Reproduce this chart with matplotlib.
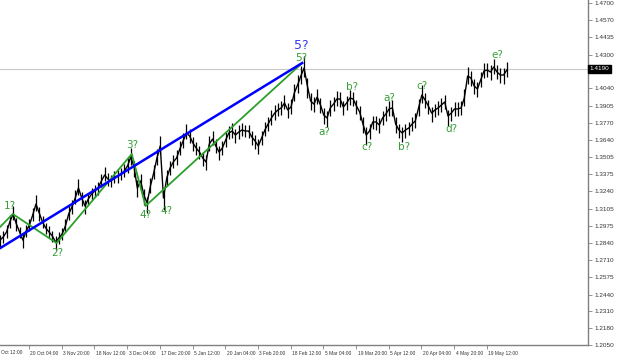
import numpy as np
import matplotlib
matplotlib.use("Agg")
import matplotlib.pyplot as plt
from matplotlib import font_manager

# ---------------- data ----------------
# daily mid/closing prices (one value per trading day)
prices = [
    1.2863, 1.2887, 1.2926, 1.3003, 1.3065, 1.2988, 1.2926, 1.2863, 1.2933, 1.2980,
    1.3057, 1.3142, 1.3073, 1.3003, 1.2956, 1.2926, 1.2895, 1.2848, 1.2879, 1.2910,
    1.2972, 1.3065, 1.3119, 1.3189, 1.3266, 1.3189, 1.3127, 1.3181, 1.3220, 1.3243,
    1.3266, 1.3321, 1.3367, 1.3336, 1.3321, 1.3352, 1.3359, 1.3375, 1.3398, 1.3437,
    1.3507, 1.3429, 1.3266, 1.3321, 1.3212, 1.3150, 1.3282, 1.3383, 1.3499, 1.3592,
    1.3189, 1.3344, 1.3421, 1.3468, 1.3499, 1.3569, 1.3631, 1.3693, 1.3669, 1.3615,
    1.3576, 1.3545, 1.3499, 1.3468, 1.3607, 1.3646, 1.3592, 1.3545, 1.3576, 1.3638,
    1.3693, 1.3708, 1.3677, 1.3700, 1.3716, 1.3708, 1.3708, 1.3662, 1.3631, 1.3592,
    1.3654, 1.3716, 1.3762, 1.3809, 1.3847, 1.3871, 1.3887, 1.3925, 1.3871, 1.3894,
    1.4003, 1.4064, 1.4134, 1.4196, 1.4057, 1.3940, 1.3917, 1.3971, 1.3910, 1.3832,
    1.3809, 1.3887, 1.3917, 1.3956, 1.3956, 1.3894, 1.3925, 1.3964, 1.3956, 1.3902,
    1.3855, 1.3762, 1.3677, 1.3708, 1.3778, 1.3778, 1.3755, 1.3809, 1.3840, 1.3879,
    1.3887, 1.3762, 1.3716, 1.3693, 1.3716, 1.3731, 1.3762, 1.3786, 1.3887, 1.3987,
    1.3948, 1.3902, 1.3847, 1.3871, 1.3887, 1.3910, 1.3933, 1.3824, 1.3847, 1.3879,
    1.3879, 1.3887, 1.3964, 1.4134, 1.4119, 1.4057, 1.4034, 1.4103, 1.4173, 1.4181,
    1.4165, 1.4204, 1.4165, 1.4142, 1.4142, 1.4181,
]
# daily extent above / below that price, in pips
up_pips = [
    40, 45, 50, 55, 60, 45, 40, 50, 45, 50,
    55, 70, 50, 45, 40, 45, 40, 45, 50, 45,
    55, 60, 55, 60, 70, 50, 45, 50, 45, 45,
    50, 55, 60, 45, 45, 50, 45, 50, 55, 60,
    70, 50, 60, 55, 50, 45, 60, 65, 70, 80,
    50, 60, 55, 55, 60, 60, 65, 70, 55, 50,
    50, 45, 50, 55, 60, 65, 55, 50, 55, 60,
    55, 60, 50, 55, 55, 50, 50, 45, 50, 55,
    55, 60, 55, 60, 60, 55, 55, 60, 55, 60,
    70, 75, 80, 90, 60, 60, 55, 60, 50, 55,
    55, 60, 55, 60, 55, 50, 55, 60, 55, 50,
    50, 55, 60, 55, 50, 50, 55, 55, 60, 60,
    65, 55, 50, 50, 50, 50, 55, 60, 70, 80,
    55, 50, 50, 50, 50, 50, 55, 50, 50, 50,
    50, 55, 70, 70, 55, 55, 55, 60, 60, 55,
    55, 65, 55, 55, 55, 60,
]
down_pips = [
    50, 45, 45, 50, 45, 55, 50, 60, 45, 45,
    50, 55, 60, 50, 45, 45, 50, 60, 45, 50,
    50, 50, 55, 50, 55, 65, 60, 50, 45, 45,
    50, 50, 50, 55, 50, 45, 50, 45, 50, 55,
    60, 80, 70, 60, 75, 80, 55, 50, 55, 60,
    90, 60, 50, 50, 55, 50, 55, 50, 55, 60,
    55, 55, 60, 65, 55, 50, 55, 60, 50, 50,
    50, 55, 60, 50, 50, 50, 55, 60, 60, 65,
    55, 50, 50, 55, 50, 50, 55, 50, 60, 55,
    60, 60, 65, 70, 90, 70, 60, 55, 60, 70,
    70, 60, 55, 55, 60, 60, 55, 55, 55, 60,
    60, 70, 75, 60, 55, 60, 60, 55, 55, 55,
    60, 70, 65, 70, 60, 55, 55, 55, 60, 60,
    60, 65, 70, 55, 55, 55, 55, 75, 60, 55,
    55, 55, 60, 60, 60, 65, 65, 55, 55, 55,
    60, 55, 55, 60, 70, 55,
]

# wave markup: (day index, price)
blue_days = [0.0, 92.4]
blue_prices = [1.2800, 1.4235]
green_days = [0.0, 3.9, 17.3, 40.3, 44.5, 92.4]
green_prices = [1.2964, 1.3065, 1.2840, 1.3530, 1.3127, 1.4235]

green_labels = ["1?", "2?", "3?", "4?", "4?", "5?", "a?", "b?", "c?", "a?", "b?", "c?", "d?", "e?"]
green_label_days = [3.0, 17.6, 40.3, 44.5, 50.9, 92.1, 99.2, 107.6, 112.1, 119.1, 123.6, 129.1, 138.2, 152.1]
green_label_prices = [1.3127, 1.2763, 1.3600, 1.3058, 1.3085, 1.4274, 1.3701, 1.4050, 1.3585, 1.3964, 1.3585, 1.4057, 1.3724, 1.4297]
blue_label = "5?"
blue_label_day = 92.1
blue_label_price = 1.4367

x_tick_labels = ["20 Oct 04:00", "3 Nov 20:00", "18 Nov 12:00", "3 Dec 04:00", "17 Dec 20:00",
                 "5 Jan 12:00", "20 Jan 04:00", "3 Feb 20:00", "18 Feb 12:00", "5 Mar 04:00",
                 "19 Mar 20:00", "5 Apr 12:00", "20 Apr 04:00", "4 May 20:00", "19 May 12:00"]
first_label = "Oct 12:00"
y_ticks = [1.4700, 1.4570, 1.4435, 1.4300, 1.4040, 1.3905, 1.3770, 1.3640, 1.3505, 1.3375,
           1.3240, 1.3105, 1.2975, 1.2840, 1.2710, 1.2575, 1.2440, 1.2310, 1.2180, 1.2050]
current_price = 1.4190

# ---------------- figure ----------------
W, H = 620, 361
fig = plt.figure(figsize=(W / 100, H / 100), dpi=100)
fig.patch.set_facecolor("white")
ax = fig.add_axes([0, (H - 345) / H, 588 / W, 345 / H])
ax.set_facecolor("white")

px_per_day = 3.27
days = np.arange(len(prices))
ax.set_xlim(0, 588 / px_per_day)
ax.set_ylim(1.2050, 1.47232)

fam = ["Liberation Sans Narrow", "Liberation Sans", "DejaVu Sans"]
names = {f.name for f in font_manager.fontManager.ttflist}
fam = [f for f in fam if f in names] or ["DejaVu Sans"]

# bid line
ax.axhline(current_price, color="#c8c8c8", lw=0.8, zorder=1)

p = np.array(prices)
highs = p + np.array(up_pips) / 10000
lows = p - np.array(down_pips) / 10000
ax.vlines(days, lows, highs, color="black", lw=0.9, zorder=3)
ax.plot(days, prices, color="black", lw=1.0, zorder=3)
ax.plot(green_days, green_prices, color="#2aa02a", lw=1.3, zorder=4)
ax.plot(blue_days, blue_prices, color="#0000ff", lw=1.8, zorder=5)

for t, d, pr in zip(green_labels, green_label_days, green_label_prices):
    ax.text(d, pr, t, color="#36a036", fontsize=7.5, ha="center", va="center", zorder=6)
ax.text(blue_label_day, blue_label_price, blue_label, color="#3a3aee", fontsize=9,
        ha="center", va="center", zorder=6)

for s in ["top", "left"]:
    ax.spines[s].set_visible(False)
for s in ["right", "bottom"]:
    ax.spines[s].set_color("#808080")
    ax.spines[s].set_linewidth(1.0)

tick0 = 29 / px_per_day
xt = [tick0 + 10 * k for k in range(len(x_tick_labels))]
ax.set_xticks(xt)
ax.set_xticklabels(x_tick_labels, ha="left", fontsize=3.5, family=fam, color="#333333")
ax.tick_params(axis="x", direction="out", length=3, width=0.6, color="#808080", pad=1.5)
for lab in ax.get_xticklabels():
    lab.set_transform(lab.get_transform() + matplotlib.transforms.ScaledTranslation(1.5 / 100, 0, fig.dpi_scale_trans))
fig.text(1 / W, (H - 352) / H, first_label, fontsize=3.5, family=fam, color="#333333",
         ha="left", va="center")

ax.yaxis.tick_right()
ax.set_yticks(y_ticks)
ax.set_yticklabels([f"{v:.4f}" for v in y_ticks], fontsize=4.6, family=fam, color="#333333")
ax.tick_params(axis="y", direction="out", length=3, width=0.6, color="#808080", pad=2)

ax.text(1.003, current_price, f"{current_price:.4f}", transform=ax.get_yaxis_transform(),
        fontsize=4.6, family=fam, color="white", ha="left", va="center",
        bbox=dict(boxstyle="square,pad=0.25", fc="black", ec="black"), zorder=10, clip_on=False)

fig.savefig("out.png", dpi=100)
